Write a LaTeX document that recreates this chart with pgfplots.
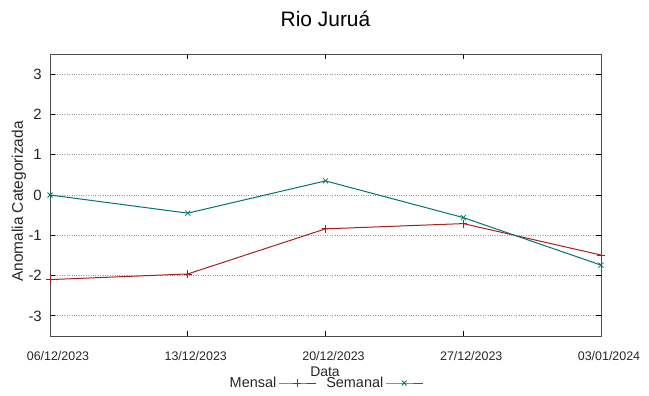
\documentclass[border=0pt]{standalone}
\usepackage{fontspec}
\setmainfont{Liberation Sans}
\usepackage{pgfplots}
\pgfplotsset{compat=1.18}
\definecolor{mensal}{RGB}{170,30,30}
\definecolor{semanal}{RGB}{0,115,115}
\begin{document}
\begin{tikzpicture}
\begin{axis}[
  at={(50bp,60bp)}, anchor=south west,
  scale only axis, width=551bp, height=282bp,
  xmin=0, xmax=4, ymin=-3.5, ymax=3.5,
  xtick={0,1,2,3,4},
  xticklabels={06/12/2023,13/12/2023,20/12/2023,27/12/2023,03/01/2024},
  ytick={-3,-2,-1,0,1,2,3},
  ymajorgrids,
  grid style={dotted, gray!80, line width=0.8bp},
  tick align=inside, major tick length=5bp,
  tick style={black, line width=0.8bp},
  axis line style={black!70, line width=1bp},
  /pgf/number format/assume math mode=true,
  xticklabel style={font=\fontsize{12.5}{14}\selectfont, anchor=north, inner sep=0pt, yshift=-15bp, xshift=8bp, text=black!85},
  yticklabel style={font=\fontsize{15}{17}\selectfont, anchor=east, inner sep=0pt, xshift=-8bp, text=black!85},
  legend style={at={(0.50,-0.1667)}, anchor=center, draw=none, fill=none,
    font=\fontsize{14.5}{16}\selectfont, text=black!85, inner sep=0pt,
    /tikz/every even column/.append style={column sep=8bp}},
  legend columns=2,
  legend plot pos=right,
  legend cell align=right,
  legend image code/.code={\draw[mark repeat=2,mark phase=2] plot coordinates {(0bp,0bp)(18.5bp,0bp)(37bp,0bp)};},
]
\addplot[mensal, line width=1bp, mark=+, mark size=4bp, mark options={line width=0.8bp}] coordinates {
(0,-2.10) (1,-1.96) (2,-0.84) (3,-0.71) (4,-1.49)};
\addlegendentry{Mensal}
\addplot[semanal, line width=1bp, mark=x, mark size=3.5bp, mark options={line width=0.8bp}] coordinates {
(0,0.00) (1,-0.45) (2,0.35) (3,-0.56) (4,-1.74)};
\addlegendentry{Semanal}
\end{axis}
\node[anchor=base, font=\fontsize{21}{24}\selectfont] at (325.5bp,369.3bp) {Rio Juruá};
\node[rotate=90, font=\fontsize{15.5}{18}\selectfont, text=black!85] at (19bp,194.5bp) {Anomalia Categorizada};
\node[anchor=base, font=\fontsize{14}{16}\selectfont, text=black!85] at (325bp,20bp) {Data};
\pgfresetboundingbox
\path (0,0) rectangle (649bp,396bp);
\end{tikzpicture}
\end{document}
